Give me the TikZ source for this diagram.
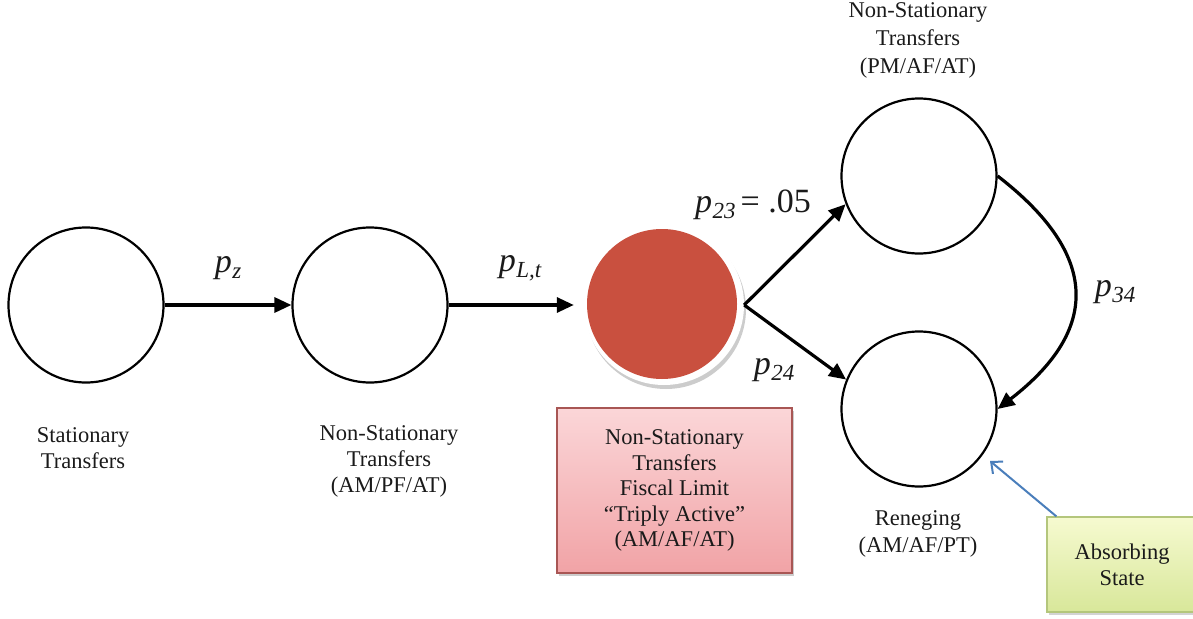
\documentclass[tikz,border=0pt]{standalone}
\usepackage{fontspec}
\setmainfont{Liberation Serif}
\usetikzlibrary{arrows.meta,shadows}
\definecolor{txt}{HTML}{1A1A1A}
\definecolor{redfill}{HTML}{C9503F}
\definecolor{boxtop}{HTML}{FBD6D8}
\definecolor{boxbot}{HTML}{F1A3A6}
\definecolor{boxdraw}{HTML}{A85654}
\definecolor{abstop}{HTML}{F6FAD0}
\definecolor{absbot}{HTML}{D8E79A}
\definecolor{absdraw}{HTML}{B4C67C}
\definecolor{blueline}{HTML}{4A7EBB}
\newcommand\probl[1]{p\kern0.5pt\raisebox{-6pt}{\fontsize{23}{23}\selectfont #1}}
\begin{document}
\begin{tikzpicture}[x=1pt,y=-1pt,
  state/.style={circle,draw=black,line width=2.2pt,minimum size=155pt,inner sep=0pt},
  trans/.style={line width=3.2pt,-{Triangle[length=17pt,width=15pt]}},
  lbl/.style={align=center,font=\fontsize{22.5}{26}\selectfont,text=txt},
  prob/.style={font=\fontsize{34}{36}\selectfont\itshape,text=txt,inner sep=0pt}]
\useasboundingbox (0,0) rectangle (1193,618);

% states
\node[state] (c1) at (86,305) {};
\node[state] (c2) at (370,305) {};
\node[circle,fill=white,minimum size=160pt,inner sep=0pt,
      drop shadow={shadow xshift=2pt,shadow yshift=-4pt,opacity=0.4}] (c3) at (664,305) {};
\node[circle,fill=redfill,minimum size=150pt,inner sep=0pt] (c3r) at (662,304) {};
\node[state] (c4) at (919,176) {};
\node[state] (c5) at (919,409) {};

% transitions
\draw[trans] (c1.east) -- (c2.west);
\draw[trans] (c2.east) -- ([xshift=-10pt]c3.west);
\draw[trans] (c3.east) -- (c4.201);
\draw[trans] (c3.east) -- (c5.158);
\draw[trans] (c4.east) .. controls (1100,255) and (1100,330) .. (c5.east);

% probability labels
\node[prob] (lz) at (228,268) {\probl{z}};
\node[prob] (lLt) at (520,268) {\probl{L,t}};
\node[prob] (l23) at (753,205) {\probl{23}\kern5pt{\upshape = .05}};
\node[prob] (l24) at (774,370) {\probl{24}};
\node[prob] (l34) at (1115,292) {\probl{34}};

% state texts
\node[lbl] (t1) at (83,448) {Stationary\\Transfers};
\node[lbl] (t2) at (389,461) {Non-Stationary\\Transfers\\(AM/PF/AT)};
\node[lbl,font=\fontsize{22.5}{28}\selectfont] (t4) at (918,40) {Non-Stationary\\Transfers\\(PM/AF/AT)};
\node[lbl,font=\fontsize{22.5}{27}\selectfont] (t5) at (918,534) {Reneging\\(AM/AF/PT)};

% fiscal limit box
\node[draw=boxdraw,line width=1.2pt,top color=boxtop,bottom color=boxbot,
      minimum width=235pt,minimum height=165pt,inner sep=0pt,
      drop shadow={shadow xshift=2pt,shadow yshift=-3pt,opacity=0.4},
      align=center,font=\fontsize{22.5}{25.5}\selectfont,text=txt] (fl) at (674.5,490.5)
  {Non-Stationary\\Transfers\\Fiscal Limit\\“Triply Active”\\(AM/AF/AT)};

% absorbing state box
\node[draw=absdraw,line width=1.2pt,top color=abstop,bottom color=absbot,
      minimum width=150pt,minimum height=95pt,inner sep=0pt,
      drop shadow={shadow xshift=2pt,shadow yshift=-3pt,opacity=0.35},
      align=center,font=\fontsize{22.5}{26}\selectfont,text=txt] (abs) at (1122,564.5)
  {Absorbing\\State};

\coordinate (tipA) at (990,461);
\draw[blueline,line width=2pt,-{Straight Barb[length=9pt,width=16pt]}]
  ([xshift=10pt]abs.north west) -- (tipA);
\end{tikzpicture}
\end{document}
